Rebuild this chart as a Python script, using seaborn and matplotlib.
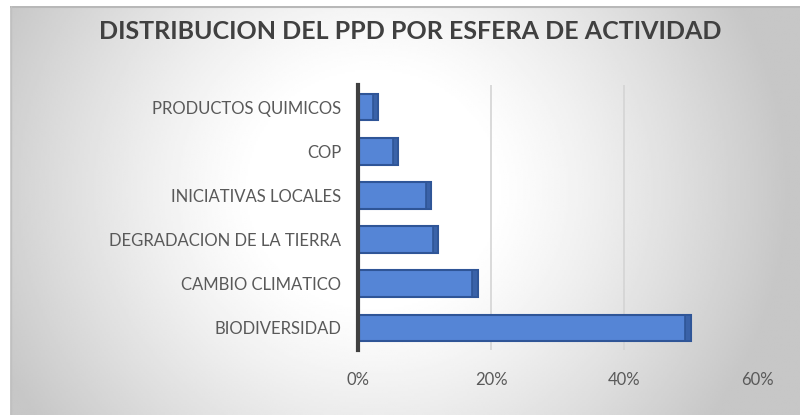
import numpy as np
import matplotlib
matplotlib.use("Agg")
import matplotlib.pyplot as plt
import seaborn as sns
import pandas as pd
from matplotlib.ticker import PercentFormatter

# data
categories = ["PRODUCTOS QUIMICOS", "COP", "INICIATIVAS LOCALES",
              "DEGRADACION DE LA TIERRA", "CAMBIO CLIMATICO", "BIODIVERSIDAD"]
shares = [0.03, 0.06, 0.11, 0.12, 0.18, 0.50]
xticks = [0.0, 0.2, 0.4, 0.6]

df = pd.DataFrame({"esfera": categories, "share": shares})

sns.set_theme(style="white")
plt.rcParams["font.family"] = ["Lato", "DejaVu Sans"]

fig = plt.figure(figsize=(8, 4.15), dpi=100)
fig.patch.set_facecolor("white")

# chart area with radial grey gradient (white centre, grey edges)
bg = fig.add_axes([10 / 800, 0, 790 / 800, 409 / 415], zorder=-10)
xx, yy = np.meshgrid(np.linspace(0, 1, 400), np.linspace(0, 1, 200))
dx = (xx - 0.46) / 0.5
dy = (yy - 0.45) / 0.5
r = np.sqrt(dx ** 2 + 0.3 * dy ** 2)
g = 0.22 * np.clip((r - 0.3) / 0.75, 0, 1) ** 1.2
bg.imshow(1 - g, cmap="gray", vmin=0, vmax=1, aspect="auto",
          extent=[0, 1, 0, 1], origin="upper")
bg.set_xlim(0, 1)
bg.set_ylim(0, 1)
bg.plot([0, 1], [0.998, 0.998], color="#b8b8b8", lw=1.5)
bg.plot([0.001, 0.001], [0, 1], color="#c0c0c0", lw=1)
bg.axis("off")

ax = fig.add_axes([0.4475, 0.157, 0.499, 0.638])
ax.patch.set_alpha(0)

sns.barplot(data=df, x="share", y="esfera", orient="h", ax=ax,
            color="#5585d6", width=0.6, edgecolor="#2f5597", linewidth=1.5,
            saturation=1)

# darker end face to hint at the 3d look of the original
for bar in list(ax.patches):
    x1 = bar.get_x() + bar.get_width()
    ax.add_patch(plt.Rectangle((x1 - 0.008, bar.get_y()), 0.008, bar.get_height(),
                               facecolor="#3a62a8", edgecolor="#2f5597",
                               lw=1.2, zorder=3))

for v in [0.2, 0.4]:
    ax.axvline(v, color="#d4d4d4", lw=1.2, zorder=0)

ax.set_xlim(0, 0.6)
ax.set_xticks(xticks)
ax.xaxis.set_major_formatter(PercentFormatter(1.0, decimals=0))
ax.set_xlabel("")
ax.set_ylabel("")
ax.tick_params(axis="x", labelsize=12, colors="#595959", length=0, pad=16)
ax.tick_params(axis="y", labelsize=12, colors="#595959", length=0, pad=12)
for s in ["top", "right", "bottom"]:
    ax.spines[s].set_visible(False)
ax.spines["left"].set_color("#404040")
ax.spines["left"].set_linewidth(3)

fig.text(410 / 800, 0.923, "DISTRIBUCION DEL PPD POR ESFERA DE ACTIVIDAD",
         ha="center", va="center", fontsize=18, fontweight="bold",
         color="#404040")

fig.savefig("out.png", dpi=100, facecolor="white")
